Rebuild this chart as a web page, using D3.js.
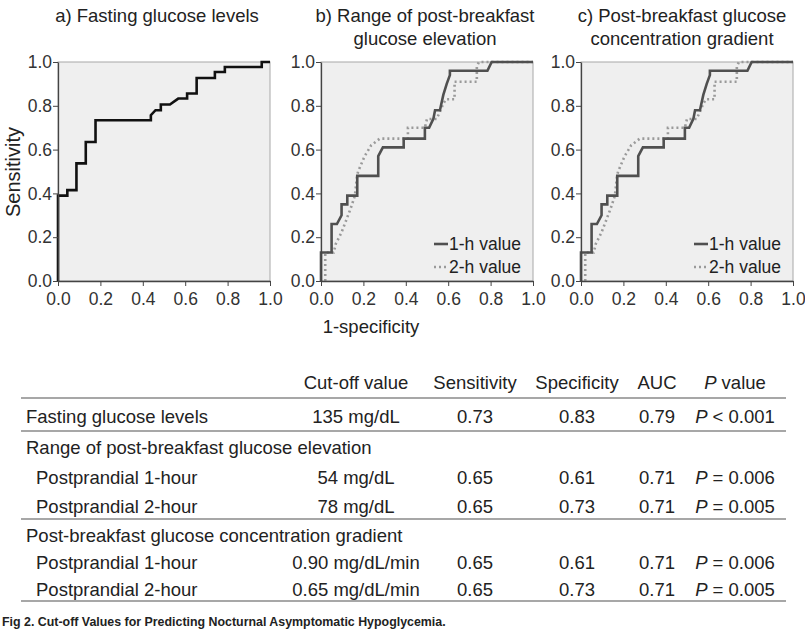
<!DOCTYPE html>
<html>
<head>
<meta charset="utf-8">
<script src="https://cdn.jsdelivr.net/npm/d3@7"></script>
<style>
  body { margin: 0; background: #fff; }
  svg { display: block; font-family: "Liberation Sans", Arial, sans-serif; }
</style>
</head>
<body>
<svg id="svgcanvas" width="805" height="629"></svg>
<script>
// ---- data ----
var rocA = [[0,0],[0,0.39],[0.044,0.39],[0.044,0.415],[0.087,0.415],[0.087,0.537],[0.131,0.537],
  [0.131,0.635],[0.177,0.635],[0.177,0.734],[0.438,0.734],[0.438,0.757],[0.46,0.78],[0.485,0.78],
  [0.485,0.806],[0.528,0.806],[0.567,0.833],[0.609,0.833],[0.609,0.856],[0.654,0.856],[0.654,0.927],
  [0.74,0.927],[0.74,0.954],[0.787,0.954],[0.787,0.977],[0.961,0.977],[0.961,1],[1,1]];

var rocB1h = [[0,0],[0,0.13],[0.05,0.13],[0.05,0.26],[0.075,0.26],[0.097,0.30],[0.097,0.35],
  [0.124,0.35],[0.124,0.39],[0.171,0.39],[0.171,0.48],[0.27,0.48],[0.27,0.57],[0.292,0.61],
  [0.39,0.61],[0.39,0.65],[0.49,0.65],[0.49,0.70],[0.51,0.70],[0.53,0.74],[0.538,0.78],
  [0.561,0.78],[0.577,0.85],[0.593,0.90],[0.608,0.94],[0.608,0.96],[0.785,0.96],[0.805,1],[1,1]];

var rocB2h = [[0.02,0],[0.02,0.13],[0.06,0.13],[0.07,0.17],[0.096,0.22],[0.12,0.28],[0.143,0.34],
  [0.16,0.39],[0.17,0.48],[0.175,0.50],[0.206,0.57],[0.237,0.62],[0.277,0.65],[0.41,0.65],
  [0.41,0.70],[0.49,0.70],[0.50,0.74],[0.545,0.74],[0.56,0.77],[0.577,0.81],[0.59,0.83],
  [0.63,0.83],[0.63,0.91],[0.735,0.91],[0.735,0.98],[0.745,1],[1,1]];

var rocC1h = [[0,0],[0,0.13],[0.05,0.13],[0.05,0.26],[0.075,0.26],[0.097,0.30],[0.097,0.35],
  [0.124,0.35],[0.124,0.39],[0.171,0.39],[0.171,0.48],[0.27,0.48],[0.27,0.57],[0.292,0.61],
  [0.39,0.61],[0.39,0.65],[0.49,0.65],[0.49,0.70],[0.51,0.70],[0.53,0.74],[0.538,0.78],
  [0.561,0.78],[0.577,0.85],[0.593,0.90],[0.608,0.94],[0.608,0.96],[0.785,0.96],[0.805,1],[1,1]];

var rocC2h = [[0.02,0],[0.02,0.13],[0.06,0.13],[0.07,0.17],[0.096,0.22],[0.12,0.28],[0.143,0.34],
  [0.16,0.39],[0.17,0.48],[0.175,0.50],[0.206,0.57],[0.237,0.62],[0.277,0.65],[0.41,0.65],
  [0.41,0.70],[0.49,0.70],[0.50,0.74],[0.545,0.74],[0.56,0.77],[0.577,0.81],[0.59,0.83],
  [0.63,0.83],[0.63,0.91],[0.735,0.91],[0.735,0.98],[0.745,1],[1,1]];

var axisTicks = [0, 0.2, 0.4, 0.6, 0.8, 1.0];
var panelTitles = [
  ["a) Fasting glucose levels"],
  ["b) Range of post-breakfast", "glucose elevation"],
  ["c) Post-breakfast glucose", "concentration gradient"]
];
var legendLabels = ["1-h value", "2-h value"];

var tableHeaders = ["Cut-off value", "Sensitivity", "Specificity", "AUC", "P value"];
var tableRows = [
  {label: "Fasting glucose levels", indent: false, vals: ["135 mg/dL", "0.73", "0.83", "0.79", "P < 0.001"]},
  {label: "Range of post-breakfast glucose elevation", indent: false, vals: null},
  {label: "Postprandial 1-hour", indent: true, vals: ["54 mg/dL", "0.65", "0.61", "0.71", "P = 0.006"]},
  {label: "Postprandial 2-hour", indent: true, vals: ["78 mg/dL", "0.65", "0.73", "0.71", "P = 0.005"]},
  {label: "Post-breakfast glucose concentration gradient", indent: false, vals: null},
  {label: "Postprandial 1-hour", indent: true, vals: ["0.90 mg/dL/min", "0.65", "0.61", "0.71", "P = 0.006"]},
  {label: "Postprandial 2-hour", indent: true, vals: ["0.65 mg/dL/min", "0.65", "0.73", "0.71", "P = 0.005"]}
];
var caption = "Fig 2. Cut-off Values for Predicting Nocturnal Asymptomatic Hypoglycemia.";

// ---- layout ----
var svg = d3.select("#svgcanvas");
var plotTop = 62, plotBottom = 281, plotW = 212;
var panelX = [58, 321, 581];
var titleX = [157, 425, 682];

var panels = [
  {curves: [{d: rocA, stroke: "#111", dash: null}]},
  {curves: [{d: rocB2h, stroke: "#9a9a9a", dash: "2,3"}, {d: rocB1h, stroke: "#505050", dash: null}], legend: true},
  {curves: [{d: rocC2h, stroke: "#9a9a9a", dash: "2,3"}, {d: rocC1h, stroke: "#505050", dash: null}], legend: true}
];

panels.forEach(function(p, i) {
  var x = d3.scaleLinear().domain([0, 1]).range([panelX[i], panelX[i] + plotW]);
  var y = d3.scaleLinear().domain([0, 1]).range([plotBottom, plotTop]);
  var g = svg.append("g");

  // plot background + light frame
  g.append("rect")
    .attr("x", x(0)).attr("y", y(1))
    .attr("width", x(1) - x(0)).attr("height", y(0) - y(1))
    .attr("fill", "#efefef").attr("stroke", "#a8a8a8").attr("stroke-width", 1);

  // curves
  var line = d3.line().x(function(d) { return x(d[0]); }).y(function(d) { return y(d[1]); });
  p.curves.forEach(function(c) {
    g.append("path")
      .attr("d", line(c.d))
      .attr("fill", "none")
      .attr("stroke", c.stroke)
      .attr("stroke-width", 2.6)
      .attr("stroke-linejoin", "miter")
      .attr("stroke-dasharray", c.dash);
  });

  // axes
  var ax = g.append("g").attr("transform", "translate(0," + plotBottom + ")")
    .call(d3.axisBottom(x).tickValues(axisTicks).tickFormat(d3.format(".1f")).tickSize(5).tickSizeOuter(0));
  var ay = g.append("g").attr("transform", "translate(" + panelX[i] + ",0)")
    .call(d3.axisLeft(y).tickValues(axisTicks).tickFormat(d3.format(".1f")).tickSize(5).tickSizeOuter(0));
  [ax, ay].forEach(function(a) {
    a.select(".domain").attr("stroke", "#444").attr("stroke-width", 1.3);
    a.selectAll(".tick line").attr("stroke", "#444");
    a.selectAll(".tick text").attr("fill", "#333").attr("font-size", 17.5)
      .attr("font-family", "'Liberation Sans', Arial, sans-serif");
  });
  ax.selectAll(".tick text").attr("dy", "0.9em");
  ay.selectAll(".tick text").attr("x", -6);

  // title
  panelTitles[i].forEach(function(t, k) {
    svg.append("text").attr("x", titleX[i]).attr("y", 22 + k * 23)
      .attr("text-anchor", "middle").attr("font-size", 18.5).attr("fill", "#222").text(t);
  });

  // legend
  if (p.legend) {
    var lx = x(0) + 113;
    [p.curves[1], p.curves[0]].forEach(function(c, k) {
      var ly = 244 + k * 23;
      g.append("line").attr("x1", lx).attr("x2", lx + 14).attr("y1", ly).attr("y2", ly)
        .attr("stroke", c.stroke).attr("stroke-width", 2.6).attr("stroke-dasharray", c.dash);
      g.append("text").attr("x", lx + 15).attr("y", ly + 6)
        .attr("font-size", 17.5).attr("fill", "#222").text(legendLabels[k]);
    });
  }
});

// axis titles
svg.append("text")
  .attr("transform", "translate(20,172) rotate(-90)")
  .attr("text-anchor", "middle").attr("font-size", 20).attr("fill", "#222").text("Sensitivity");
svg.append("text")
  .attr("x", 371).attr("y", 333)
  .attr("text-anchor", "middle").attr("font-size", 18.5).attr("fill", "#222").text("1-specificity");

// ---- table ----
var colX = [356, 475, 577, 657, 735];
var tLeft = 21, tRight = 786;
var headerY = 389;
var rowY = [423, 454, 484, 513, 542, 569, 596];
var ruleY = [398, 431, 519, 601];

var tbl = svg.append("g").attr("font-size", 18.5).attr("fill", "#222");

function pText(sel, s) {
  // italic leading P for p-values
  if (s.charAt(0) === "P") {
    sel.append("tspan").attr("font-style", "italic").text("P");
    sel.append("tspan").text(s.slice(1));
  } else {
    sel.text(s);
  }
}

tableHeaders.forEach(function(h, j) {
  var t = tbl.append("text").attr("x", colX[j]).attr("y", headerY).attr("text-anchor", "middle");
  pText(t, h);
});

ruleY.forEach(function(ry) {
  tbl.append("line").attr("x1", tLeft).attr("x2", tRight).attr("y1", ry).attr("y2", ry)
    .attr("stroke", "#8a8a8a").attr("stroke-width", 1.6);
});

tableRows.forEach(function(r, i) {
  tbl.append("text").attr("x", r.indent ? 36 : 26).attr("y", rowY[i]).text(r.label);
  if (r.vals) {
    r.vals.forEach(function(v, j) {
      var t = tbl.append("text").attr("x", colX[j]).attr("y", rowY[i]).attr("text-anchor", "middle");
      pText(t, v);
    });
  }
});

svg.append("text").attr("x", 2).attr("y", 626)
  .attr("font-size", 12.4).attr("font-weight", "bold").attr("fill", "#222")
  .attr("font-family", "'Liberation Sans Narrow', 'Liberation Sans', Arial, sans-serif")
  .text(caption);
</script>
</body>
</html>
